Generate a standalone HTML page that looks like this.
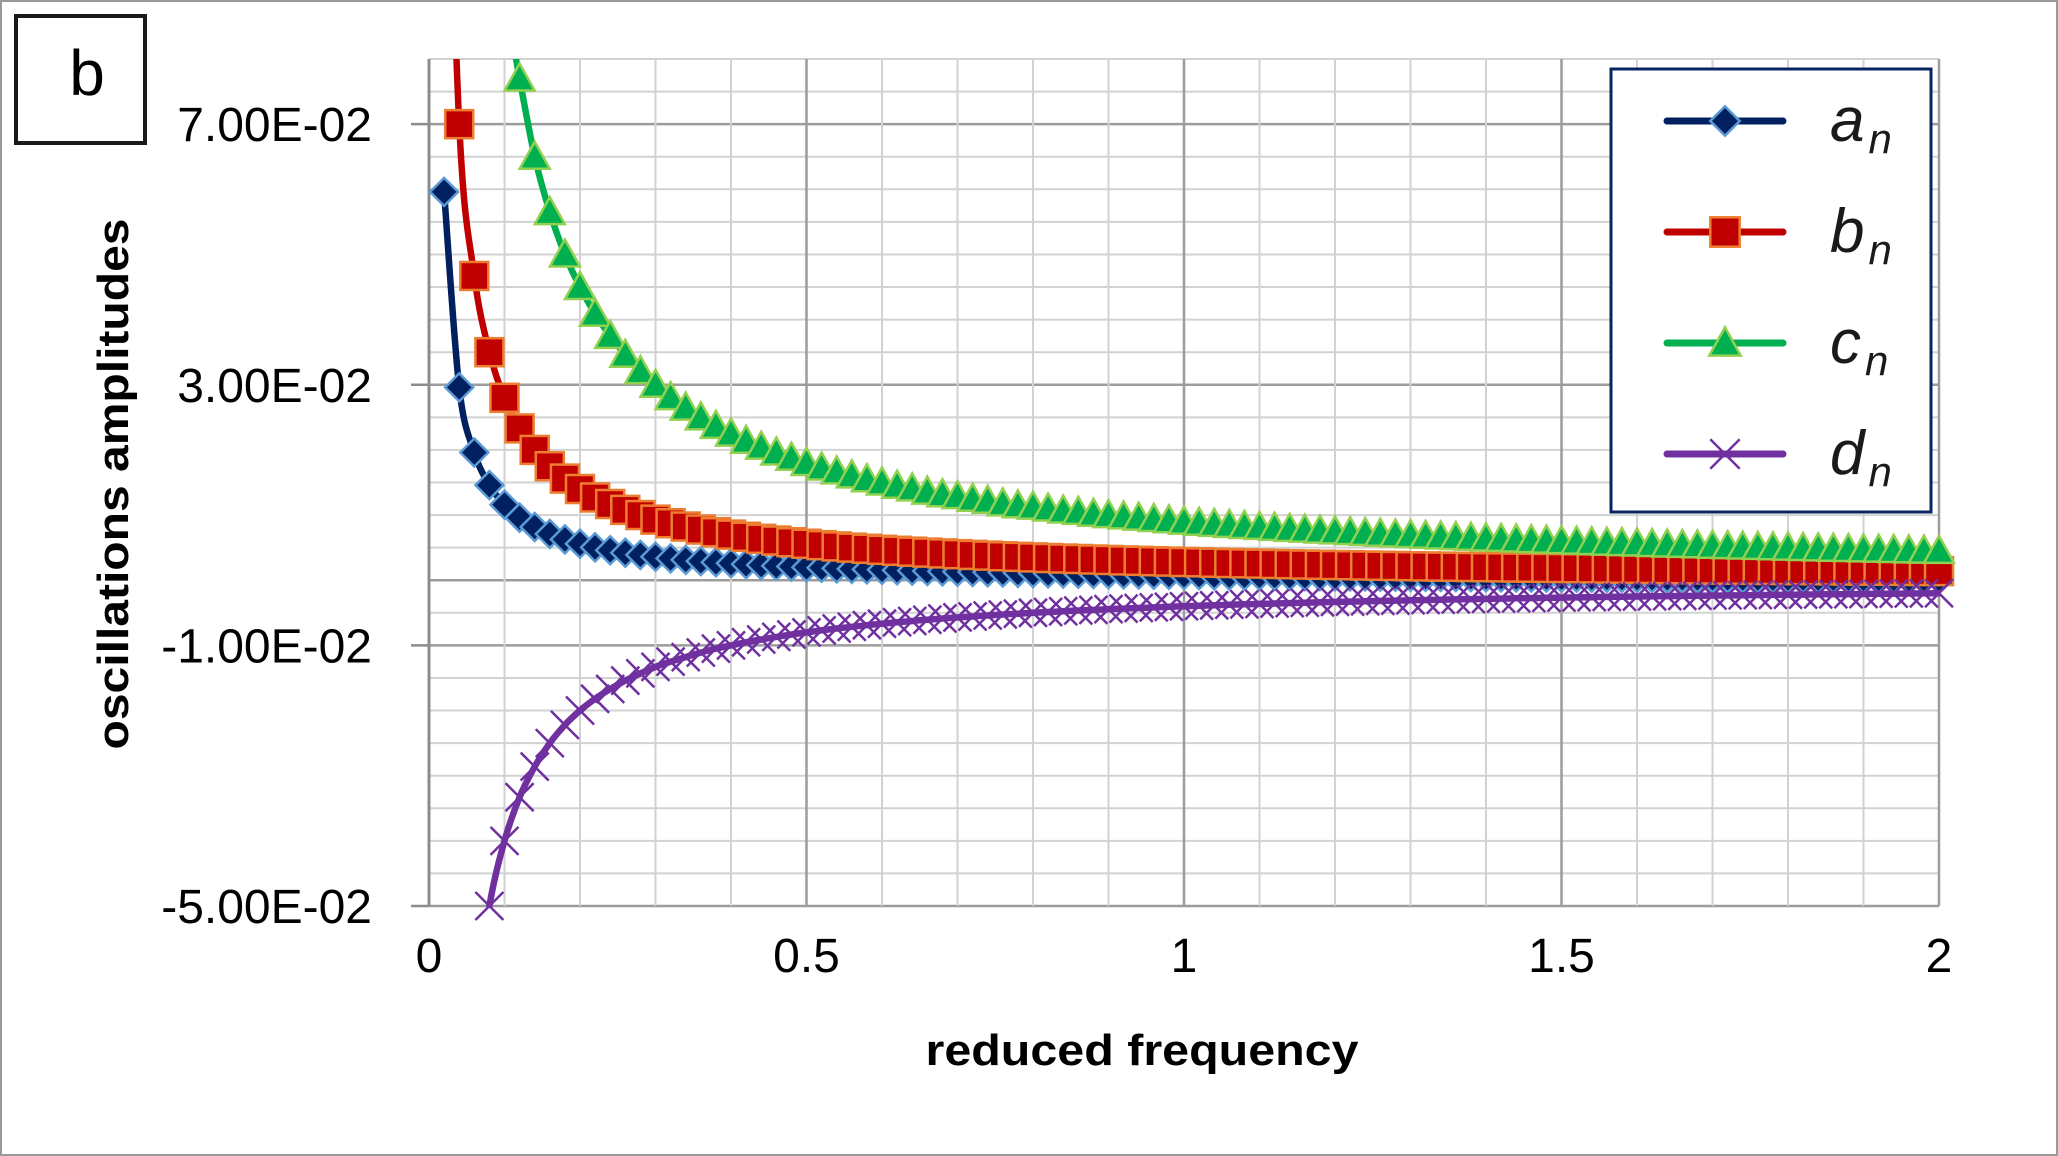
<!DOCTYPE html>
<html><head><meta charset="utf-8"><style>
html,body{margin:0;padding:0;background:#fff}
svg{display:block}
</style></head><body>
<svg id="chart" width="2058" height="1156" viewBox="0 0 2058 1156" xmlns="http://www.w3.org/2000/svg">
<rect x="1" y="1" width="2056" height="1154" fill="#fff" stroke="#9a9a9a" stroke-width="2"/>
<defs><clipPath id="plotclip"><rect x="429" y="59" width="1512" height="848"/></clipPath></defs>
<g id="grid"></g>
<g id="axes"></g>
<g id="series"></g>
<rect x="16" y="16" width="129" height="127" fill="#fff" stroke="#1a1a1a" stroke-width="4"/>
<text x="87" y="95" font-family="Liberation Sans, sans-serif" font-size="64" text-anchor="middle" fill="#000">b</text>
<text transform="translate(128,484) rotate(-90)" font-family="Liberation Sans Narrow, Liberation Sans, sans-serif" font-weight="bold" font-size="44" text-anchor="middle" textLength="531" lengthAdjust="spacingAndGlyphs" fill="#000">oscillations amplitudes</text>
<text x="1142" y="1065" font-family="Liberation Sans Narrow, Liberation Sans, sans-serif" font-weight="bold" font-size="44" text-anchor="middle" textLength="433" lengthAdjust="spacingAndGlyphs" fill="#000">reduced frequency</text>
<g id="legend">
<rect x="1611" y="69" width="320" height="443" fill="#fff" stroke="#0a2463" stroke-width="3"/>
</g>
</svg>
<script>
const xs = [0.02,0.04,0.06,0.08,0.10,0.12,0.14,0.16,0.18,0.20,0.22,0.24,0.26,0.28,0.30,0.32,0.34,0.36,0.38,0.40,0.42,0.44,0.46,0.48,0.50,0.52,0.54,0.56,0.58,0.60,0.62,0.64,0.66,0.68,0.70,0.72,0.74,0.76,0.78,0.80,0.82,0.84,0.86,0.88,0.90,0.92,0.94,0.96,0.98,1.00,1.02,1.04,1.06,1.08,1.10,1.12,1.14,1.16,1.18,1.20,1.22,1.24,1.26,1.28,1.30,1.32,1.34,1.36,1.38,1.40,1.42,1.44,1.46,1.48,1.50,1.52,1.54,1.56,1.58,1.60,1.62,1.64,1.66,1.68,1.70,1.72,1.74,1.76,1.78,1.80,1.82,1.84,1.86,1.88,1.90,1.92,1.94,1.96,1.98,2.00];
const aVals = [0.0596,0.0296,0.0196,0.0146,0.0116,0.0096,0.00817,0.0071,0.00627,0.0056,0.00505,0.0046,0.00422,0.00389,0.0036,0.00335,0.00313,0.00293,0.00276,0.0026,0.00246,0.00233,0.00221,0.0021,0.002,0.00191,0.00182,0.00174,0.00167,0.0016,0.00154,0.00148,0.00142,0.00136,0.00131,0.00127,0.00122,0.00118,0.00114,0.0011,0.00106,0.00103,0.001,0.00096,0.00093,0.0009,0.00088,0.00085,0.00082,0.0008,0.00078,0.00075,0.00073,0.00071,0.00069,0.00067,0.00065,0.00063,0.00062,0.0006,0.00058,0.00057,0.00055,0.00054,0.00052,0.00051,0.0005,0.00048,0.00047,0.00046,0.00045,0.00043,0.00042,0.00041,0.0004,0.00039,0.00038,0.00037,0.00036,0.00035,0.00034,0.00033,0.00032,0.00031,0.00031,0.0003,0.00029,0.00028,0.00027,0.00027,0.00026,0.00025,0.00025,0.00024,0.00023,0.00023,0.00022,0.00021,0.00021,0.0002];
const bVals = [0.14,0.07,0.0467,0.035,0.028,0.0233,0.02,0.0175,0.0156,0.014,0.0127,0.0117,0.0108,0.01,0.0093,0.00875,0.00824,0.00778,0.00737,0.007,0.00667,0.00636,0.00609,0.00583,0.0056,0.00538,0.00519,0.005,0.00483,0.00467,0.00452,0.00438,0.00424,0.00412,0.004,0.00389,0.00378,0.00368,0.00359,0.0035,0.00341,0.00333,0.00326,0.00318,0.00311,0.00304,0.00298,0.00292,0.00286,0.0028,0.00275,0.00269,0.00264,0.00259,0.00255,0.0025,0.00246,0.00241,0.00237,0.00233,0.0023,0.00226,0.00222,0.00219,0.00215,0.00212,0.00209,0.00206,0.00203,0.002,0.00197,0.00194,0.00192,0.00189,0.00187,0.00184,0.00182,0.00179,0.00177,0.00175,0.00173,0.00171,0.00169,0.00167,0.00165,0.00163,0.00161,0.00159,0.00157,0.00156,0.00154,0.00152,0.00151,0.00149,0.00147,0.00146,0.00144,0.00143,0.00141,0.0014];
const cVals = [null,null,null,null,0.09,0.077,0.065,0.0565,0.05,0.045,0.0409,0.0375,0.0346,0.0321,0.03,0.0281,0.0265,0.025,0.0237,0.0225,0.0214,0.0205,0.0196,0.0188,0.018,0.0173,0.0167,0.0161,0.0155,0.015,0.0145,0.0141,0.0136,0.0132,0.0129,0.0125,0.0122,0.0118,0.0115,0.0113,0.011,0.0107,0.0105,0.0102,0.01,0.0098,0.0096,0.0094,0.0092,0.009,0.00882,0.00865,0.00849,0.00833,0.00818,0.00804,0.00789,0.00776,0.00763,0.0075,0.00738,0.00726,0.00714,0.00703,0.00692,0.00682,0.00672,0.00662,0.00652,0.00643,0.00634,0.00625,0.00616,0.00608,0.006,0.00592,0.00584,0.00577,0.0057,0.00563,0.00556,0.00549,0.00542,0.00536,0.00529,0.00523,0.00517,0.00511,0.00506,0.005,0.00495,0.00489,0.00484,0.00479,0.00474,0.00469,0.00464,0.00459,0.00455,0.0045];
const dVals = [null,null,-0.0667,-0.05,-0.04,-0.0333,-0.0286,-0.025,-0.0222,-0.02,-0.0182,-0.0167,-0.0154,-0.0143,-0.0133,-0.0125,-0.0118,-0.0111,-0.0105,-0.01,-0.00952,-0.00909,-0.0087,-0.00833,-0.008,-0.00769,-0.00741,-0.00714,-0.0069,-0.00667,-0.00645,-0.00625,-0.00606,-0.00588,-0.00571,-0.00556,-0.00541,-0.00526,-0.00513,-0.005,-0.00488,-0.00476,-0.00465,-0.00455,-0.00444,-0.00435,-0.00426,-0.00417,-0.00408,-0.004,-0.00392,-0.00385,-0.00377,-0.0037,-0.00364,-0.00357,-0.00351,-0.00345,-0.00339,-0.00333,-0.00328,-0.00323,-0.00317,-0.00313,-0.00308,-0.00303,-0.00299,-0.00294,-0.0029,-0.00286,-0.00282,-0.00278,-0.00274,-0.0027,-0.00267,-0.00263,-0.0026,-0.00256,-0.00253,-0.0025,-0.00247,-0.00244,-0.00241,-0.00238,-0.00235,-0.00233,-0.0023,-0.00227,-0.00225,-0.00222,-0.0022,-0.00217,-0.00215,-0.00213,-0.00211,-0.00208,-0.00206,-0.00204,-0.00202,-0.002];
const yTickValues = [0.07,0.03,-0.01,-0.05];
const yTickLabels = ["7.00E-02","3.00E-02","-1.00E-02","-5.00E-02"];
const xTickValues = [0,0.5,1,1.5,2];
const xTickLabels = ["0","0.5","1","1.5","2"];
const seriesNames = ["a","b","c","d"];

const NS = "http://www.w3.org/2000/svg";
const X0 = 429, X1 = 1939, YMIN = -0.05, YMAX = 0.08, PY0 = 906, PY1 = 59;
function xScale(v){ return X0 + (v - 0) / 2 * (X1 - X0); }
function yScale(v){ return PY0 - (v - YMIN) / (YMAX - YMIN) * (PY0 - PY1); }
function mk(tag, attrs, parent){ const e = document.createElementNS(NS, tag); for (const k in attrs) e.setAttribute(k, attrs[k]); parent.appendChild(e); return e; }

const grid = document.getElementById('grid');
for (let i = 0; i <= 26; i++) {
  const v = YMIN + i * 0.005;
  const y = yScale(v);
  const major = yTickValues.some(t => Math.abs(t - v) < 1e-9) || Math.abs(v) < 1e-9;
  const ln = mk('line', {x1: X0, x2: X1, y1: y, y2: y, stroke: major ? '#9c9c9c' : '#d2d2d2', 'stroke-width': major ? 2.5 : 2}, grid);
  
  
}
for (let i = 0; i <= 20; i++) {
  const v = i * 0.1;
  const x = xScale(v);
  const major = i % 5 === 0;
  const ln = mk('line', {x1: x, x2: x, y1: PY1, y2: PY0, stroke: major ? '#9c9c9c' : '#d2d2d2', 'stroke-width': major ? 2.5 : 2}, grid);
  
  
}
const axes = document.getElementById('axes');
const yax = mk('line', {x1: X0, x2: X0, y1: PY1, y2: PY0, stroke: '#8c8c8c', 'stroke-width': 3}, axes);


yTickValues.forEach((v, i) => {
  const y = yScale(v);
  const tk = mk('line', {x1: 411, x2: X0, y1: y, y2: y, stroke: '#8c8c8c', 'stroke-width': 2.5}, axes);
  
  
  const t = mk('text', {x: 372, y: y + 17, 'text-anchor': 'end', 'font-family': 'Liberation Sans, sans-serif', 'font-size': 48, fill: '#000'}, axes);
  t.textContent = yTickLabels[i];
  
  
});
xTickValues.forEach((v, i) => {
  const t = mk('text', {x: xScale(v), y: 972, 'text-anchor': 'middle', 'font-family': 'Liberation Sans, sans-serif', 'font-size': 48, fill: '#000'}, axes);
  t.textContent = xTickLabels[i];
  
  
});

const styles = [
  {vals: aVals, line: '#002060', fill: '#002060', edge: '#5b9bd5', shape: 'diamond'},
  {vals: bVals, line: '#c00000', fill: '#c00000', edge: '#ed7d31', shape: 'square'},
  {vals: cVals, line: '#00b050', fill: '#00b050', edge: '#92d050', shape: 'triangle'},
  {vals: dVals, line: '#7030a0', fill: 'none', edge: '#7030a0', shape: 'x'}
];
function marker(shape, cx, cy, st, parent, scale){
  const s = scale || 1;
  let e;
  if (shape === 'diamond') e = mk('polygon', {points: `${cx},${cy-14*s} ${cx+14*s},${cy} ${cx},${cy+14*s} ${cx-14*s},${cy}`, fill: st.fill, stroke: st.edge, 'stroke-width': 2.5}, parent);
  else if (shape === 'square') e = mk('rect', {x: cx-14*s, y: cy-14*s, width: 28*s, height: 28*s, fill: st.fill, stroke: st.edge, 'stroke-width': 2.5}, parent);
  else if (shape === 'triangle') e = mk('polygon', {points: `${cx},${cy-15*s} ${cx+15*s},${cy+12*s} ${cx-15*s},${cy+12*s}`, fill: st.fill, stroke: st.edge, 'stroke-width': 2.5}, parent);
  else e = mk('path', {d: `M${cx-14*s},${cy-14*s}L${cx+14*s},${cy+14*s}M${cx+14*s},${cy-14*s}L${cx-14*s},${cy+14*s}`, stroke: st.edge, 'stroke-width': 2.5, fill: 'none'}, parent);
  return e;
}
function smoothPath(pts){
  let d = 'M' + pts[0][0].toFixed(1) + ',' + pts[0][1].toFixed(1);
  const t = 1 / 6;
  for (let i = 0; i < pts.length - 1; i++) {
    const p0 = pts[Math.max(0, i - 1)], p1 = pts[i], p2 = pts[i + 1], p3 = pts[Math.min(pts.length - 1, i + 2)];
    const c1x = p1[0] + (p2[0] - p0[0]) * t, c1y = p1[1] + (p2[1] - p0[1]) * t;
    const c2x = p2[0] - (p3[0] - p1[0]) * t, c2y = p2[1] - (p3[1] - p1[1]) * t;
    d += `C${c1x.toFixed(1)},${c1y.toFixed(1)} ${c2x.toFixed(1)},${c2y.toFixed(1)} ${p2[0].toFixed(1)},${p2[1].toFixed(1)}`;
  }
  return d;
}
const sg = document.getElementById('series');
styles.forEach((st, si) => {
  const g = mk('g', {}, sg);
  
  
  const lineG = mk('g', {'clip-path': 'url(#plotclip)'}, g);
  const pts = [];
  st.vals.forEach((v, i) => { if (v !== null) pts.push([xScale(xs[i]), yScale(v)]); });
  const pl = mk('path', {d: smoothPath(pts), fill: 'none', stroke: st.line, 'stroke-width': 6.5, 'stroke-linejoin': 'round', 'stroke-linecap': 'round'}, lineG);
  
  
  st.vals.forEach((v, i) => {
    if (v === null || v > YMAX || v < YMIN - 1e-9) return;
    const m = marker(st.shape, xScale(xs[i]), yScale(v), st, g);
    
    
  });
});

const lg = document.getElementById('legend');
const legendY = [121, 232, 343, 454];
styles.forEach((st, si) => {
  const y = legendY[si];
  const g = mk('g', {}, lg);
  
  
  mk('line', {x1: 1667, x2: 1783, y1: y, y2: y, stroke: st.line, 'stroke-width': 7, 'stroke-linecap': 'round'}, g);
  marker(st.shape, 1725, y, st, g, 1.05);
  const t = mk('text', {x: 1830, y: y + 20, 'font-family': 'Liberation Sans, sans-serif', 'font-style': 'italic', 'font-size': 62, fill: '#1a1a1a'}, g);
  t.textContent = seriesNames[si];
  const sub = mk('tspan', {'font-size': 42, dy: 12, dx: 4}, t);
  sub.textContent = 'n';
});
</script>
</body></html>
